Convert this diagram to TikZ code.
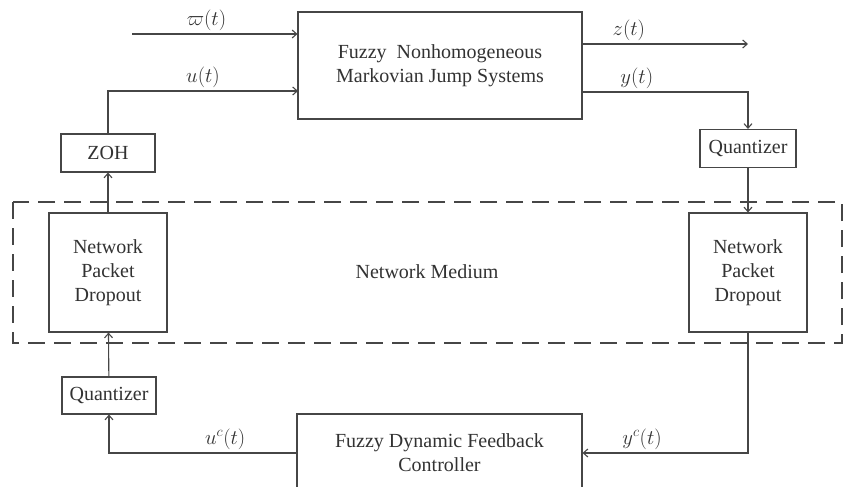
\documentclass[tikz,border=0pt]{standalone}
\usepackage{fontspec}
\setmainfont{Liberation Serif}
\usepackage{tikz}
\usetikzlibrary{positioning, calc, arrows.meta}
\definecolor{linegray}{RGB}{70,70,70}
\definecolor{textgray}{RGB}{50,50,50}

\begin{document}
\begin{tikzpicture}[x=1pt, y=-1pt,
        box/.style={rectangle, draw=linegray, line width=1.1pt, align=center, inner sep=0pt, text=textgray, font=\fontsize{20}{24}\selectfont},
        arrow/.style={-{Straight Barb[length=4.5pt, width=8pt]}, draw=linegray, line width=1.1pt},
        lbl/.style={text=textgray, font=\fontsize{20}{24}\selectfont, inner sep=1pt}
    ]
        \useasboundingbox (0,0) rectangle (846,487);
        \clip (0,0) rectangle (846,487);
        % network medium
        \draw[linegray, line width=1.1pt, dash pattern=on 17pt off 9pt] (13,202) rectangle (842,343);
        \node[text=textgray, font=\fontsize{20}{24}\selectfont] (NM) at (427,272) {Network Medium};

        \node[box, minimum width=284pt, minimum height=107pt] (SYS) at (440,65.5) {Fuzzy\ \ Nonhomogeneous\\Markovian Jump Systems};
        \node[box, minimum width=94pt, minimum height=38pt] (ZOH) at (108,153) {ZOH};
        \node[box, minimum width=96pt, minimum height=38pt] (QR) at (748,148.5) {Quantizer};
        \node[box, minimum width=118pt, minimum height=119pt] (NPDL) at (108,272.5) {Network\\Packet\\Dropout};
        \node[box, minimum width=118pt, minimum height=119pt] (NPDR) at (748,272.5) {Network\\Packet\\Dropout};
        \node[box, minimum width=94pt, minimum height=37pt] (QL) at (109,395.5) {Quantizer};
        \node[box, minimum width=285pt, minimum height=78pt] (CTRL) at (439.5,453) {Fuzzy Dynamic Feedback\\Controller};

        \coordinate (WIN) at (132,34);
        \coordinate (UIN) at (298,91);
        \coordinate (ZOUT) at (748,44);
        \coordinate (YOUT) at (582,92);

        \draw[arrow] (WIN) -- (WIN -| SYS.west) node[lbl, pos=0.45, above=2pt] (LW) {$\varpi(t)$};
        \draw[arrow] (ZOH.north) |- (UIN) node[lbl, pos=0.75, above=2pt] (LU) {$u(t)$};
        \draw[arrow] (SYS.east |- ZOUT) -- (ZOUT) node[lbl, pos=0.28, above=2pt] (LZ) {$z(t)$};
        \draw[arrow] (YOUT) -| (QR.north) node[lbl, pos=0.165, above=2pt] (LY) {$y(t)$};
        \draw[arrow] (QR) -- (NPDR);
        \draw[arrow] (NPDR.south) |- (CTRL.east) node[lbl, pos=0.82, above=2pt] (LYC) {$y^c(t)$};
        \draw[arrow] (CTRL.west) -| (QL.south) node[lbl, pos=0.19, above=2pt] (LUC) {$u^c(t)$};
        \draw[arrow] (QL) -- (NPDL);
        \draw[arrow] (NPDL) -- (ZOH);
    \end{tikzpicture}
\end{document}
